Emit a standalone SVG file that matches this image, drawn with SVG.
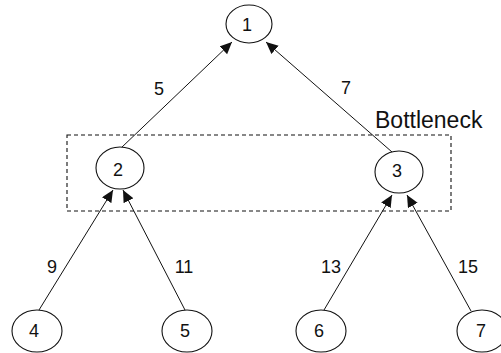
<svg xmlns="http://www.w3.org/2000/svg" width="501" height="353" viewBox="0 0 501 353">
<style>
.n ellipse{fill:#fff;stroke:#111;stroke-width:1.1}
.n text{font-family:"Liberation Sans",Arial,sans-serif;font-size:18px;fill:#111;text-anchor:middle}
.lbl{font-family:"Liberation Sans",Arial,sans-serif;font-size:18px;fill:#111;text-anchor:middle}
.e line{stroke:#111;stroke-width:1;marker-end:url(#ah)}
</style>
<defs>
<marker id="ah" markerUnits="userSpaceOnUse" markerWidth="14" markerHeight="12" refX="12" refY="5.5" orient="auto">
<path d="M0,0 L12,5.5 L0,11 Z" fill="#111"/>
</marker>
</defs>
<rect x="67" y="135" width="384" height="76" fill="none" stroke="#111" stroke-width="1.1" stroke-dasharray="4,3"/>
<text x="375" y="128" font-family="Liberation Sans, Arial, sans-serif" font-size="23" fill="#111">Bottleneck</text>
<g id="connectors" class="e">
<line x1="121" y1="148" x2="232" y2="42"/>
<line x1="392" y1="152" x2="266" y2="42"/>
<line x1="39" y1="310" x2="113" y2="190"/>
<line x1="185" y1="310" x2="123" y2="190"/>
<line x1="324" y1="310" x2="392" y2="195"/>
<line x1="471" y1="311" x2="407" y2="195"/>
</g>
<text class="lbl" x="159" y="95">5</text>
<text class="lbl" x="346" y="94">7</text>
<text class="lbl" x="52" y="273">9</text>
<text class="lbl" x="184" y="273">11</text>
<text class="lbl" x="331" y="273">13</text>
<text class="lbl" x="468" y="273">15</text>
<g id="node1" class="n"><ellipse cx="249" cy="24" rx="23" ry="19"/><text x="247" y="31">1</text></g>
<g id="node2" class="n"><ellipse cx="120" cy="168" rx="24" ry="21"/><text x="118" y="176">2</text></g>
<g id="node3" class="n"><ellipse cx="399" cy="172" rx="24" ry="21"/><text x="397" y="177">3</text></g>
<g id="node4" class="n"><ellipse cx="37" cy="331" rx="25" ry="21"/><text x="34" y="337">4</text></g>
<g id="node5" class="n"><ellipse cx="187" cy="331" rx="25" ry="21"/><text x="185" y="337">5</text></g>
<g id="node6" class="n"><ellipse cx="321" cy="331" rx="25" ry="21"/><text x="319" y="337">6</text></g>
<g id="node7" class="n"><ellipse cx="482" cy="331" rx="25" ry="21"/><text x="481" y="337">7</text></g>
</svg>
